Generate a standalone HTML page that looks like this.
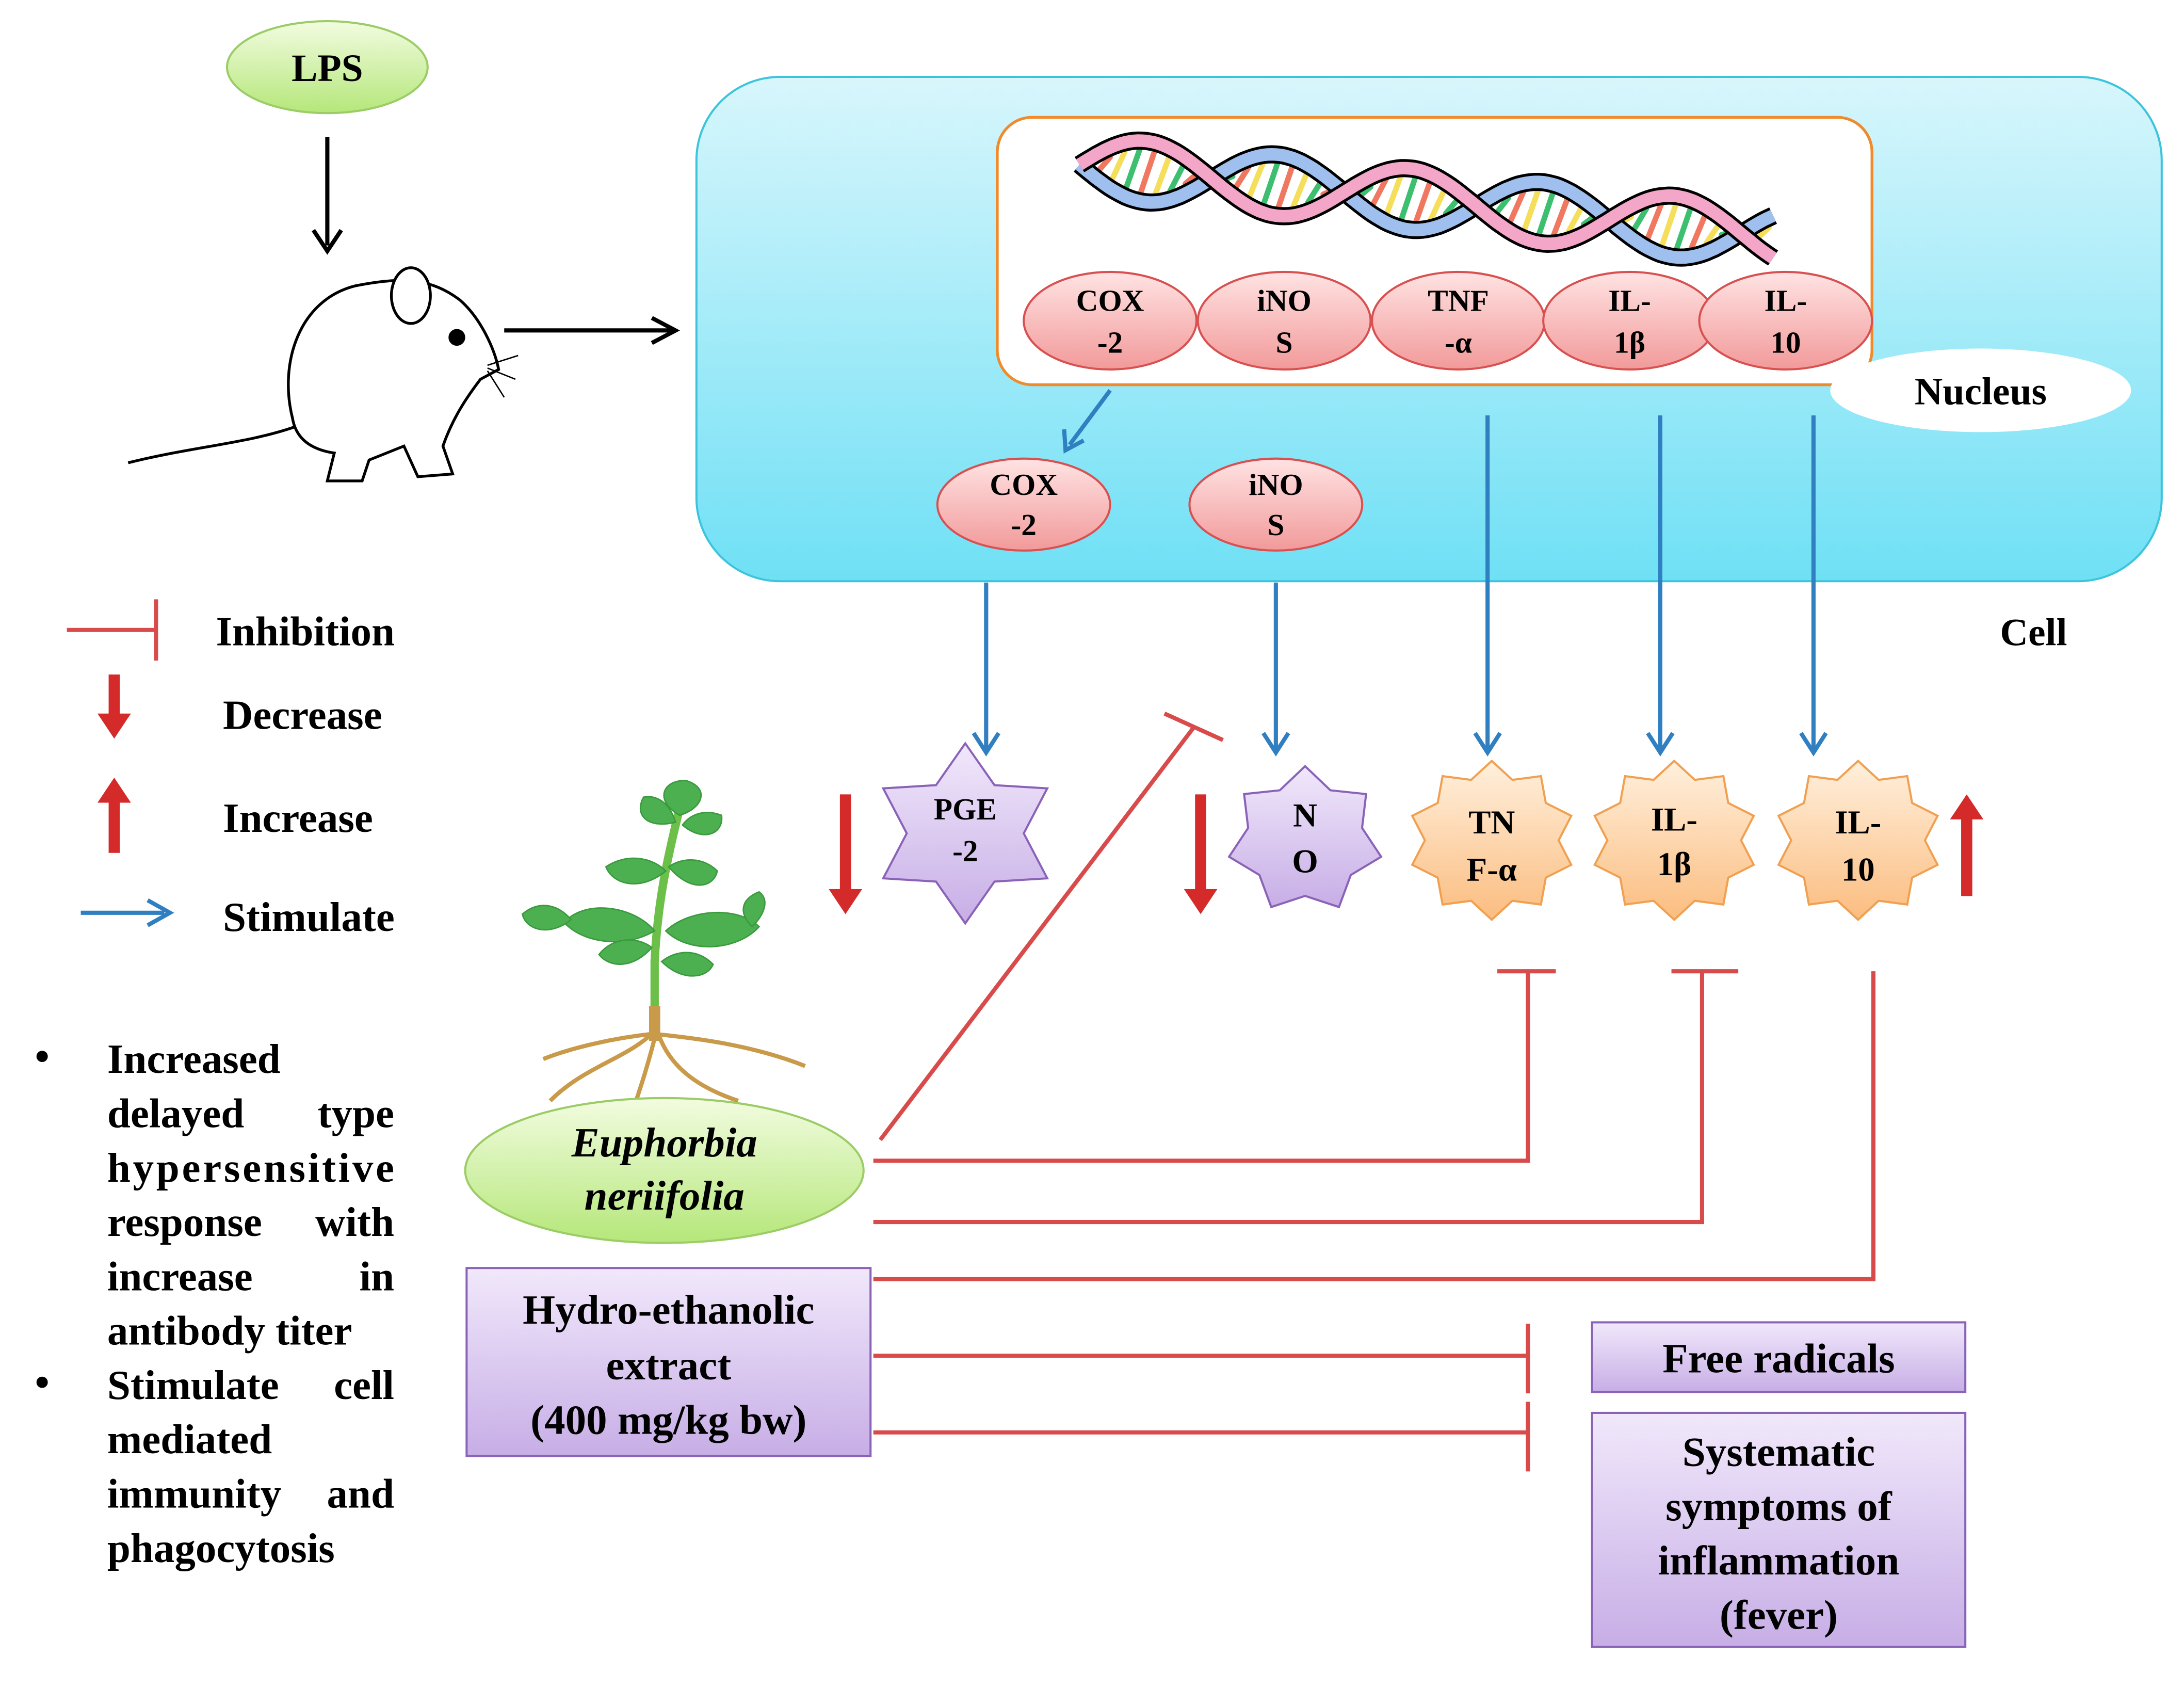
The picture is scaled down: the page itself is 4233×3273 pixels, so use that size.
<!DOCTYPE html>
<html><head><meta charset="utf-8"><style>
html,body{margin:0;padding:0;background:#fff;}
svg{display:block;}
text{font-family:"Liberation Serif",serif;font-weight:bold;fill:#000;}
</style></head><body>
<svg id="s" width="4233" height="3273" viewBox="0 0 1568 1212" xmlns="http://www.w3.org/2000/svg">
<defs>
<linearGradient id="gG" x1="0" y1="0" x2="0" y2="1"><stop offset="0" stop-color="#f2fce0"/><stop offset="1" stop-color="#b5e77a"/></linearGradient>
<linearGradient id="gC" x1="0" y1="0" x2="0" y2="1"><stop offset="0" stop-color="#d8f6fc"/><stop offset="1" stop-color="#6fe0f5"/></linearGradient>
<linearGradient id="gR" x1="0" y1="0" x2="0" y2="1"><stop offset="0" stop-color="#ffe3e3"/><stop offset="1" stop-color="#f29a9a"/></linearGradient>
<linearGradient id="gP" x1="0" y1="0" x2="0" y2="1"><stop offset="0" stop-color="#f1e8fb"/><stop offset="1" stop-color="#c7aee6"/></linearGradient>
<linearGradient id="gO" x1="0" y1="0" x2="0" y2="1"><stop offset="0" stop-color="#fff0dd"/><stop offset="1" stop-color="#fbbd80"/></linearGradient>
</defs>

<!-- LPS -->
<ellipse cx="235" cy="48" rx="72" ry="33" fill="url(#gG)" stroke="#9ccc65" stroke-width="1.5"/>
<text x="235" y="58" font-size="28" text-anchor="middle">LPS</text>
<line x1="235" y1="98" x2="235" y2="176" stroke="#000" stroke-width="3"/>
<path d="M225,165 L235,180 L245,165" fill="none" stroke="#000" stroke-width="3"/>

<!-- mouse -->
<g stroke="#000" stroke-width="2" fill="#fff">
<path d="M92,332 C140,320 180,318 215,305" fill="none"/>
<path d="M210,300 C200,260 215,215 255,205 C290,198 310,200 330,215 C345,228 355,250 358,265 L345,272 C335,285 325,300 318,320 L325,340 L300,342 L290,320 L265,330 L260,345 L235,345 L240,325 C220,322 212,312 210,300 Z"/>
<ellipse cx="295" cy="212" rx="14" ry="20"/>
<circle cx="328" cy="242" r="5" fill="#000"/>
<path d="M350,262 L372,255 M350,264 L370,272 M350,266 L362,285" fill="none" stroke-width="1"/>
</g>
<line x1="362" y1="237" x2="482" y2="237" stroke="#000" stroke-width="3"/>
<path d="M468,228 L485,237 L468,246" fill="none" stroke="#000" stroke-width="3"/>

<!-- cell -->
<rect x="500" y="55" width="1052" height="362" rx="60" fill="url(#gC)" stroke="#3cc4dc" stroke-width="1.5"/>
<text x="1460" y="463" font-size="28" text-anchor="middle">Cell</text>
<rect x="716" y="84" width="628" height="192" rx="25" fill="#fff" stroke="#f08a2a" stroke-width="2"/>
<g id="dna"></g>
<g id="nuc"></g>
<ellipse cx="1422" cy="280" rx="108" ry="30" fill="#fff"/>
<text x="1422" y="290" font-size="28" text-anchor="middle">Nucleus</text>

<!-- blue arrows -->
<g stroke="#2f7fc1" stroke-width="3" fill="none">
<line x1="797" y1="280" x2="768" y2="319"/><path d="M764,308 L765,323 L778,316"/>
<line x1="708" y1="418" x2="708" y2="538"/><path d="M699,526 L708,540 L717,526"/>
<line x1="916" y1="418" x2="916" y2="538"/><path d="M907,526 L916,540 L925,526"/>
<line x1="1068" y1="298" x2="1068" y2="538"/><path d="M1059,526 L1068,540 L1077,526"/>
<line x1="1192" y1="298" x2="1192" y2="538"/><path d="M1183,526 L1192,540 L1201,526"/>
<line x1="1302" y1="298" x2="1302" y2="538"/><path d="M1293,526 L1302,540 L1311,526"/>
</g>
<ellipse cx="735" cy="362" rx="62" ry="33" fill="url(#gR)" stroke="#d85050" stroke-width="1.5"/>
<text x="735" y="355" font-size="22" text-anchor="middle">COX</text><text x="735" y="384" font-size="22" text-anchor="middle">-2</text>
<ellipse cx="916" cy="362" rx="62" ry="33" fill="url(#gR)" stroke="#d85050" stroke-width="1.5"/>
<text x="916" y="355" font-size="22" text-anchor="middle">iNO</text><text x="916" y="384" font-size="22" text-anchor="middle">S</text>

<!-- legend -->
<g stroke="#d94b4b" stroke-width="3">
<line x1="48" y1="452" x2="112" y2="452"/><line x1="112" y1="430" x2="112" y2="474"/>
</g>
<text x="155" y="463" font-size="30">Inhibition</text>
<path d="M78,484 L86,484 L86,512 L94,512 L82,530 L70,512 L78,512 Z" fill="#d42a2a"/>
<text x="160" y="523" font-size="30">Decrease</text>
<path d="M78,612 L86,612 L86,576 L94,576 L82,558 L70,576 L78,576 Z" fill="#d42a2a"/>
<text x="160" y="597" font-size="30">Increase</text>
<line x1="58" y1="655" x2="118" y2="655" stroke="#2f7fc1" stroke-width="3"/>
<path d="M106,646 L122,655 L106,664" fill="none" stroke="#2f7fc1" stroke-width="3"/>
<text x="160" y="668" font-size="30">Stimulate</text>

<!-- bullets -->
<g font-size="30">
<text x="25" y="768">•</text><text x="25" y="1002">•</text>
<text x="77" y="770">Increased</text>
<text x="77" y="809">delayed</text><text x="283" y="809" text-anchor="end">type</text>
<text x="77" y="848" textLength="206">hypersensitive</text>
<text x="77" y="887">response</text><text x="283" y="887" text-anchor="end">with</text>
<text x="77" y="926">increase</text><text x="283" y="926" text-anchor="end">in</text>
<text x="77" y="965">antibody titer</text>
<text x="77" y="1004">Stimulate</text><text x="283" y="1004" text-anchor="end">cell</text>
<text x="77" y="1043">mediated</text>
<text x="77" y="1082">immunity</text><text x="283" y="1082" text-anchor="end">and</text>
<text x="77" y="1121">phagocytosis</text>
</g>

<!-- stars -->
<g id="stars"></g>
<text x="693" y="588" font-size="22" text-anchor="middle">PGE</text><text x="693" y="618" font-size="22" text-anchor="middle">-2</text>
<text x="937" y="593" font-size="24" text-anchor="middle">N</text><text x="937" y="626" font-size="24" text-anchor="middle">O</text>
<text x="1071" y="598" font-size="24" text-anchor="middle">TN</text><text x="1071" y="632" font-size="24" text-anchor="middle">F-α</text>
<text x="1202" y="596" font-size="24" text-anchor="middle">IL-</text><text x="1202" y="628" font-size="24" text-anchor="middle">1β</text>
<text x="1334" y="598" font-size="24" text-anchor="middle">IL-</text><text x="1334" y="632" font-size="24" text-anchor="middle">10</text>
<path d="M603,570 L611,570 L611,638 L619,638 L607,656 L595,638 L603,638 Z" fill="#d42a2a"/>
<path d="M858,570 L866,570 L866,638 L874,638 L862,656 L850,638 L858,638 Z" fill="#d42a2a"/>
<path d="M1408,643 L1416,643 L1416,588 L1424,588 L1412,570 L1400,588 L1408,588 Z" fill="#d42a2a"/>

<!-- plant -->
<g>
<g stroke="#c89a4a" stroke-width="3" fill="none">
<path d="M470,740 C450,760 420,765 395,790"/><path d="M472,740 C480,765 500,780 530,790"/>
<path d="M470,742 C500,745 540,750 578,765"/><path d="M468,742 C440,745 410,752 390,760"/>
<path d="M470,745 C465,765 460,780 455,795"/>
</g>
<path d="M470,745 L470,690 C472,650 478,620 488,580" stroke="#6cc04a" stroke-width="6" fill="none"/>
<rect x="466" y="722" width="8" height="25" fill="#c89a4a"/>
<g fill="#4caf50" stroke="#3a9a3e" stroke-width="1">
<path d="M488,585 C470,575 475,560 492,560 C510,565 505,580 488,585Z"/>
<path d="M485,590 C465,595 455,585 462,572 C475,570 482,580 485,590Z"/>
<path d="M490,592 C505,605 520,598 518,585 C505,580 495,585 490,592Z"/>
<path d="M478,625 C460,640 440,635 435,622 C450,612 468,615 478,625Z"/>
<path d="M480,622 C495,640 512,638 515,625 C505,615 490,615 480,622Z"/>
<path d="M470,668 C450,680 420,678 405,662 C420,645 455,650 470,668Z"/>
<path d="M410,660 C395,672 378,668 375,656 C388,645 402,650 410,660Z"/>
<path d="M468,680 C455,695 438,695 430,685 C440,672 458,672 468,680Z"/>
<path d="M478,668 C495,685 530,682 545,665 C530,650 495,652 478,668Z"/>
<path d="M540,665 C550,655 552,645 545,640 C532,645 530,655 540,665Z"/>
<path d="M475,690 C490,705 508,702 512,692 C500,680 485,682 475,690Z"/>
</g>
</g>
<ellipse cx="477" cy="840" rx="143" ry="52" fill="url(#gG)" stroke="#9ccc65" stroke-width="1.5"/>
<text x="477" y="830" font-size="30" font-style="italic" text-anchor="middle">Euphorbia</text>
<text x="477" y="868" font-size="30" font-style="italic" text-anchor="middle">neriifolia</text>

<!-- red inhibition lines -->
<g stroke="#d94b4b" stroke-width="3" fill="none">
<line x1="632" y1="818" x2="857" y2="522"/><line x1="836" y1="512" x2="878" y2="531"/>
<path d="M627,833 L1097,833 L1097,697"/><line x1="1075" y1="697" x2="1117" y2="697"/>
<path d="M627,877 L1222,877 L1222,697"/><line x1="1200" y1="697" x2="1248" y2="697"/>
<path d="M627,918 L1345,918 L1345,697"/>
<line x1="627" y1="973" x2="1097" y2="973"/><line x1="1097" y1="950" x2="1097" y2="1000"/>
<line x1="627" y1="1028" x2="1097" y2="1028"/><line x1="1097" y1="1006" x2="1097" y2="1056"/>
</g>

<!-- boxes -->
<rect x="335" y="910" width="290" height="135" fill="url(#gP)" stroke="#8a62b8" stroke-width="1.5"/>
<text x="480" y="950" font-size="30" text-anchor="middle">Hydro-ethanolic</text>
<text x="480" y="990" font-size="30" text-anchor="middle">extract</text>
<text x="480" y="1029" font-size="30" text-anchor="middle">(400 mg/kg bw)</text>
<rect x="1143" y="949" width="268" height="50" fill="url(#gP)" stroke="#8a62b8" stroke-width="1.5"/>
<text x="1277" y="985" font-size="30" text-anchor="middle">Free radicals</text>
<rect x="1143" y="1014" width="268" height="168" fill="url(#gP)" stroke="#8a62b8" stroke-width="1.5"/>
<text x="1277" y="1052" font-size="30" text-anchor="middle">Systematic</text>
<text x="1277" y="1091" font-size="30" text-anchor="middle">symptoms of</text>
<text x="1277" y="1130" font-size="30" text-anchor="middle">inflammation</text>
<text x="1277" y="1169" font-size="30" text-anchor="middle">(fever)</text>
</svg>
<script>
var NS="http://www.w3.org/2000/svg";
function el(p,t,a){var e=document.createElementNS(NS,t);for(var k in a)e.setAttribute(k,a[k]);p.appendChild(e);return e;}
var st=document.getElementById('stars');
function star(cx,cy,n,R,r,fill,stroke){var p=[];for(var i=0;i<2*n;i++){var a=Math.PI*i/n-Math.PI/2;var rr=i%2?r:R;p.push((cx+rr*Math.cos(a)).toFixed(1)+','+(cy+rr*Math.sin(a)*0.95).toFixed(1));}
el(st,'polygon',{points:p.join(' '),fill:fill,stroke:stroke,'stroke-width':1.5});}
star(693,598,6,68,42,'url(#gP)','#8a62b8');
star(937,603,7,56,42,'url(#gP)','#8a62b8');
star(1071,603,10,60,48,'url(#gO)','#f0a050');
star(1202,603,10,60,48,'url(#gO)','#f0a050');
star(1334,603,10,60,48,'url(#gO)','#f0a050');
var nu=document.getElementById('nuc');
[[797,'COX','-2'],[922,'iNO','S'],[1047,'TNF','-α'],[1170,'IL-','1β'],[1282,'IL-','10']].forEach(function(d){
el(nu,'ellipse',{cx:d[0],cy:230,rx:62,ry:35,fill:'url(#gR)',stroke:'#d85050','stroke-width':1.5});
var t=el(nu,'text',{x:d[0],y:223,'font-size':22,'text-anchor':'middle'});t.textContent=d[1];
var t2=el(nu,'text',{x:d[0],y:253,'font-size':22,'text-anchor':'middle'});t2.textContent=d[2];});
var g=document.getElementById('dna');
var x0=775,x1=1275,y0=118,y1=170,per=190,amp=22;
function yc(x){return y0+(y1-y0)*(x-x0)/(x1-x0);}
var cols=['#3cbf6e','#f07860','#f5de5a'];
for(var x=x0+5;x<x1-10;x+=11){var k=Math.floor((x-x0)/11);
var ph=2*Math.PI*(x-x0)/per;var a=yc(x)+amp*Math.sin(ph),b=yc(x)-amp*Math.sin(ph);
if(Math.abs(a-b)>10) el(g,'line',{x1:x-6,y1:Math.max(a,b)-4,x2:x+6,y2:Math.min(a,b)+4,stroke:cols[k%3],'stroke-width':4,'stroke-linecap':'round'});}
function strand(s,c){var d='';for(var x=x0;x<=x1;x+=3){var y=yc(x)+s*amp*Math.sin(2*Math.PI*(x-x0)/per);d+=(x==x0?'M':'L')+x+','+y.toFixed(1);}
el(g,'path',{d:d,fill:'none',stroke:'#000','stroke-width':13});el(g,'path',{d:d,fill:'none',stroke:c,'stroke-width':9});}
strand(1,'#9fc0ee');strand(-1,'#f3a6c8');
</script>
</body></html>
